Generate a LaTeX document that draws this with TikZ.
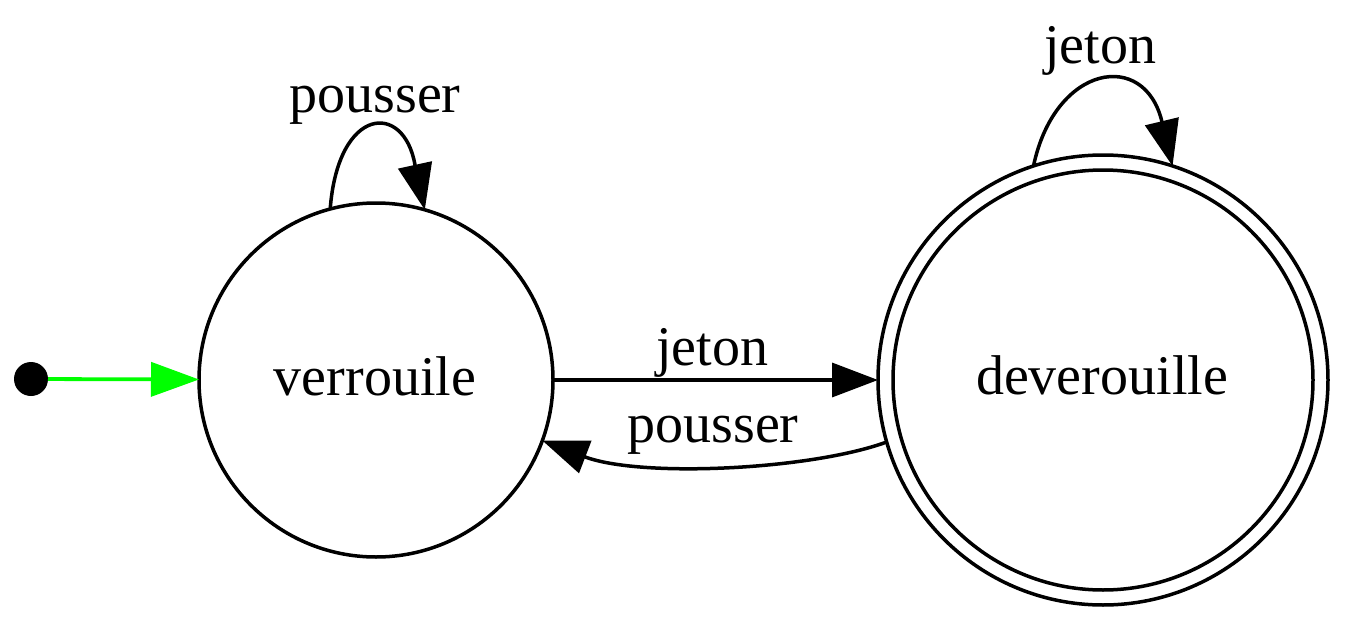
\documentclass[tikz,border=0pt]{standalone}
\usepackage{fontspec}
\setmainfont{Liberation Serif}
\usetikzlibrary{arrows.meta}
\definecolor{initgreen}{RGB}{0,255,0}
\tikzset{
  state/.style={circle,draw=black,line width=1.75pt,inner sep=0pt,outer sep=0pt,minimum size=#1},
  lbl/.style={anchor=base,inner sep=0pt,font=\fontsize{28}{34}\selectfont},
  edge/.style={draw=black,line width=1.75pt,-{Triangle[length=23pt,width=17pt]}},
  initedge/.style={draw=initgreen,line width=1.9pt,-{Triangle[length=24pt,width=17pt]}}
}
\begin{document}
\begin{tikzpicture}[x=0.5pt,y=-0.5pt]
\useasboundingbox (0,0) rectangle (1345,621);
% start dot
\node[circle,fill=black,inner sep=0pt,outer sep=0pt,minimum size=17pt] (s) at (31,379) {};
% states
\node[state=177pt] (v) at (376,380) {};
\node[lbl] (vt) at (375,395) {verrouile};
\node[state=225pt] (d) at (1103,380) {};
\node[state=210pt] (di) at (1103,380) {};
\node[lbl] (dt) at (1102,394) {deverouille};
% edge labels
\node[lbl] (l1) at (375,112) {pousser};
\node[lbl] (l2) at (712,365) {jeton};
\node[lbl] (l3) at (713,442) {pousser};
\node[lbl] (l4) at (1100,63) {jeton};
% loop bend points
\coordinate (vb) at (415,165);
\coordinate (db) at (1162,122);
% edges
\draw[initedge] (s) -- (v);
\draw[edge] (v) -- (d);
\draw[edge] (d.196) .. controls (810,470) and (640,478) .. (v.-20);
\draw[edge] (v.105) .. controls (338,106) and (404,101) .. (vb) -- (v.74);
\draw[edge] (d.108) .. controls (1055,64) and (1145,49) .. (db) -- (d.72);
\end{tikzpicture}
\end{document}
